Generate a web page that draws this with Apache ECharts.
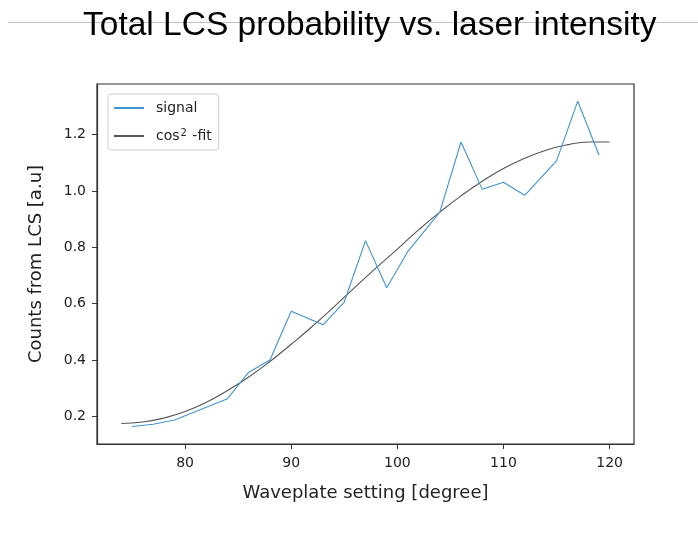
<!DOCTYPE html>
<html>
<head>
<meta charset="utf-8">
<script src="https://cdn.jsdelivr.net/npm/echarts@6/dist/echarts.min.js"></script>
<style>
  html, body { margin: 0; padding: 0; background: #fff; }
  #chart { width: 698px; height: 536px; }
</style>
</head>
<body>
<div id="chart"></div>
<script>
// Waveplate angle (degrees) and measured LCS counts
const signalAngles = [75, 77, 79, 84, 86, 88, 90, 93, 95, 97, 99, 101, 104, 106, 108, 110, 112, 115, 117, 119];
const signalCounts = [0.164, 0.172, 0.187, 0.263, 0.357, 0.400, 0.573, 0.525, 0.606, 0.824, 0.657, 0.786, 0.925, 1.174, 1.006, 1.031, 0.985, 1.107, 1.319, 1.128];

// cos^2 fit curve sampled along the angle range
const fitAngles = [74, 76, 78, 80, 82, 84, 86, 88, 90, 92, 94, 96, 98, 100, 102, 104, 106, 108, 110, 112, 114, 116, 118, 120];
const fitCounts = [0.175, 0.180, 0.194, 0.217, 0.250, 0.292, 0.340, 0.395, 0.456, 0.520, 0.588, 0.658, 0.727, 0.794, 0.862, 0.925, 0.983, 1.035, 1.080, 1.116, 1.145, 1.164, 1.174, 1.174];

const xTicks = [80, 90, 100, 110, 120];
const yTicks = [0.2, 0.4, 0.6, 0.8, 1.0, 1.2];

const titleText = 'Total LCS probability vs. laser intensity';
const xName = 'Waveplate setting [degree]';
const yName = 'Counts from LCS [a.u]';
const signalName = 'signal';
const fitName = 'cos\u00b2 -fit';

const zip = (xs, ys) => xs.map((x, i) => [x, ys[i]]);

const chart = echarts.init(document.getElementById('chart'), null, { renderer: 'canvas' });
const axisColor = '#333';
const font = 'DejaVu Sans';

chart.setOption({
  animation: false,
  backgroundColor: '#fff',
  title: {
    text: titleText,
    left: 78,
    top: 4,
    z: 10,
    textStyle: { fontFamily: 'Liberation Sans', fontSize: 33.5, fontWeight: 'normal', color: '#000' }
  },
  graphic: [{
    type: 'line',
    z: 0,
    silent: true,
    shape: { x1: 8, y1: 22.5, x2: 698, y2: 22.5 },
    style: { stroke: '#c4c4c4', lineWidth: 1 }
  }],
  grid: { left: 97, right: 64, top: 84, bottom: 92, show: true, borderColor: axisColor, borderWidth: 1.2, backgroundColor: 'transparent' },
  legend: {
    orient: 'vertical',
    left: 108,
    top: 94,
    padding: [7, 7, 7, 5],
    itemGap: 13,
    itemWidth: 30,
    itemHeight: 14,
    borderColor: '#d0d0d0',
    borderWidth: 1,
    borderRadius: 3,
    backgroundColor: '#fff',
    itemStyle: { opacity: 0 },
    formatter: name => name === fitName ? '{t|cos}{s|2}{t| -fit}' : '{t|' + name + '}',
    textStyle: {
      padding: [0, 0, 0, 7],
      rich: {
        t: { fontFamily: font, fontSize: 14, color: '#222' },
        s: { fontFamily: font, fontSize: 10, color: '#222', verticalAlign: 'top', padding: [0, 1, 6, 1] }
      }
    },
    data: [signalName, fitName]
  },
  xAxis: {
    type: 'value',
    min: 71.7,
    max: 122.3,
    name: xName,
    nameLocation: 'middle',
    nameGap: 40,
    nameTextStyle: { fontFamily: font, fontSize: 18, color: '#222' },
    axisLine: { show: true, lineStyle: { color: axisColor, width: 1.2 } },
    axisTick: { show: true, length: 5, customValues: xTicks, lineStyle: { color: axisColor } },
    axisLabel: { customValues: xTicks, margin: 12, fontFamily: font, fontSize: 14, color: '#222' },
    splitLine: { show: false }
  },
  yAxis: {
    type: 'value',
    min: 0.102,
    max: 1.38,
    name: yName,
    nameLocation: 'middle',
    nameGap: 52,
    nameTextStyle: { fontFamily: font, fontSize: 18, color: '#222' },
    axisLine: { show: true, lineStyle: { color: axisColor, width: 1.2 } },
    axisTick: { show: true, length: 5, customValues: yTicks, lineStyle: { color: axisColor } },
    axisLabel: { customValues: yTicks, margin: 11, fontFamily: font, fontSize: 14, color: '#222',
      formatter: v => v.toFixed(1) },
    splitLine: { show: false }
  },
  series: [
    {
      name: signalName,
      type: 'line',
      data: zip(signalAngles, signalCounts),
      symbol: 'none',
      lineStyle: { color: '#4393d2', width: 1.1 },
      itemStyle: { color: '#4393d2' },
      z: 3
    },
    {
      name: fitName,
      type: 'line',
      data: zip(fitAngles, fitCounts),
      smooth: true,
      symbol: 'none',
      lineStyle: { color: '#555', width: 1.1 },
      itemStyle: { color: '#555' },
      z: 2
    }
  ]
});
</script>
</body>
</html>
